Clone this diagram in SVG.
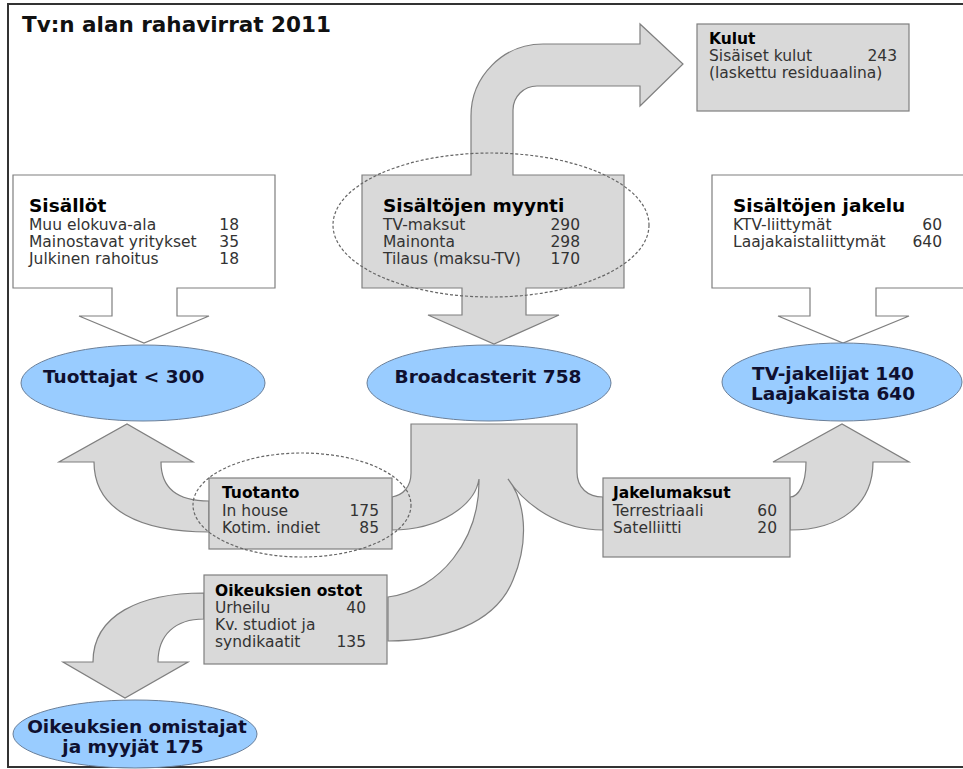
<svg xmlns="http://www.w3.org/2000/svg" width="963" height="769" viewBox="0 0 963 769">
<style>
.g{fill:#d9d9d9;stroke:#7f7f7f;stroke-width:1.2}
.w{fill:#ffffff;stroke:#7f7f7f;stroke-width:1.2}
.e{fill:#99ccff;stroke:#6a7f99;stroke-width:1}
.dot{fill:none;stroke:#666;stroke-width:1.2;stroke-dasharray:3 2}
text{font-family:"DejaVu Sans","Verdana",sans-serif}
.h{font-size:18.5px;font-weight:bold;fill:#000}
.hs{font-size:15.5px;font-weight:bold;fill:#000}
.t{font-size:15.5px;fill:#333}
.n{font-size:15.5px;fill:#333;text-anchor:end}
.et{font-size:18.5px;font-weight:bold;fill:#0f1030}
.c{text-anchor:middle}
</style>
<rect x="0" y="0" width="963" height="769" fill="#fff"/>
<rect x="8" y="4" width="962" height="763" fill="none" stroke="#333" stroke-width="2"/>
<text x="22" y="32" style="font-size:21.5px;font-weight:bold;fill:#111">Tv:n alan rahavirrat 2011</text>

<g id="connectors">
<path class="g" d="M411,424 L577,424 L577,472 C577,488 588,497 603,497 L603,530 C560,530 525,505 508,479 C525,500 530,540 513,580 C495,625 440,641 388,641 L388,597 C440,590 480,540 479,479 C475,505 440,530 392,530 L392,497 C403,495 411,487 411,473 Z"/>
<path class="g" d="M209,532 C140,532 94,510 94,462 L59,462 L127,424 L193,462 L161,462 C161,490 180,501 209,501 Z"/>
<path class="g" d="M790,530 C840,530 873,505 873,462 L909,462 L842,424 L773,462 L806,462 C806,485 798,497 790,497 Z"/>
<path class="g" d="M204,593 C140,593 93,615 93,662 L63,662 L125,698 L188,662 L158,662 C158,635 175,619 204,619 Z"/>
</g>

<g id="kulut">
<rect class="g" x="697" y="24" width="212" height="87"/>
<text class="hs" x="709" y="44">Kulut</text>
<text class="t" x="709" y="61">Sisäiset kulut</text>
<text class="n" x="897" y="61">243</text>
<text class="t" x="709" y="78">(laskettu residuaalina)</text>
</g>

<g id="sisallot">
<path class="w" d="M13,175 L275,175 L275,288 L177,288 L177,316 L209,316 L144,343 L79,316 L112,316 L112,288 L13,288 Z"/>
<text class="h" x="29" y="212">Sisällöt</text>
<text class="t" x="29" y="230">Muu elokuva-ala</text><text class="n" x="239" y="230">18</text>
<text class="t" x="29" y="247">Mainostavat yritykset</text><text class="n" x="239" y="247">35</text>
<text class="t" x="29" y="264">Julkinen rahoitus</text><text class="n" x="239" y="264">18</text>
</g>

<g id="myynti">
<path class="g" d="M362,175 L471,175 L471,116 A72,72 0 0 1 543,44 L640,44 L640,24 L683,64 L640,106 L640,86 L537,86 A24,24 0 0 0 513,110 L513,175 L624,175 L624,288 L526,288 L526,315 L559,315 L494,344 L428,315 L462,315 L462,288 L362,288 Z"/>
<text class="h" x="383" y="212">Sisältöjen myynti</text>
<text class="t" x="383" y="230">TV-maksut</text><text class="n" x="580" y="230">290</text>
<text class="t" x="383" y="247">Mainonta</text><text class="n" x="580" y="247">298</text>
<text class="t" x="383" y="264">Tilaus (maksu-TV)</text><text class="n" x="580" y="264">170</text>
<ellipse class="dot" cx="491" cy="225" rx="158" ry="72"/>
</g>

<g id="jakelu">
<path class="w" d="M712,175 L972,175 L972,288 L876,288 L876,316 L909,316 L843,343 L778,316 L810,316 L810,288 L712,288 Z"/>
<text class="h" x="733" y="212">Sisältöjen jakelu</text>
<text class="t" x="733" y="230">KTV-liittymät</text><text class="n" x="942" y="230">60</text>
<text class="t" x="733" y="247">Laajakaistaliittymät</text><text class="n" x="942" y="247">640</text>
</g>

<g id="tuottajat">
<ellipse class="e" cx="143" cy="383" rx="122" ry="38"/>
<text class="et" x="43" y="383">Tuottajat &lt; 300</text>
</g>

<g id="broadcasterit">
<ellipse class="e" cx="489" cy="383" rx="122" ry="38"/>
<text class="et c" x="488" y="383">Broadcasterit 758</text>
</g>

<g id="tvjakelijat">
<ellipse class="e" cx="842" cy="382" rx="120" ry="39"/>
<text class="et c" x="833" y="380">TV-jakelijat 140</text>
<text class="et c" x="833" y="400">Laajakaista 640</text>
</g>

<g id="tuotanto">
<rect class="g" x="209" y="478" width="183" height="71"/>
<text class="hs" x="222" y="498">Tuotanto</text>
<text class="t" x="222" y="515.5">In house</text><text class="n" x="379" y="515.5">175</text>
<text class="t" x="222" y="533">Kotim. indiet</text><text class="n" x="379" y="533">85</text>
<ellipse class="dot" cx="302" cy="505" rx="109" ry="52"/>
</g>

<g id="jakelumaksut">
<rect class="g" x="603" y="478" width="187" height="79"/>
<text class="hs" x="613" y="498">Jakelumaksut</text>
<text class="t" x="613" y="516">Terrestriaali</text><text class="n" x="777" y="516">60</text>
<text class="t" x="613" y="533">Satelliitti</text><text class="n" x="777" y="533">20</text>
</g>

<g id="ostot">
<rect class="g" x="204" y="575" width="183" height="89"/>
<text class="hs" x="215" y="596">Oikeuksien ostot</text>
<text class="t" x="215" y="613">Urheilu</text><text class="n" x="366" y="613">40</text>
<text class="t" x="215" y="630">Kv. studiot ja</text>
<text class="t" x="215" y="647">syndikaatit</text><text class="n" x="366" y="647">135</text>
</g>

<g id="omistajat">
<ellipse class="e" cx="135" cy="734" rx="122" ry="34"/>
<text class="et c" x="137" y="733">Oikeuksien omistajat</text>
<text class="et c" x="133" y="753">ja myyjät 175</text>
</g>
</svg>
